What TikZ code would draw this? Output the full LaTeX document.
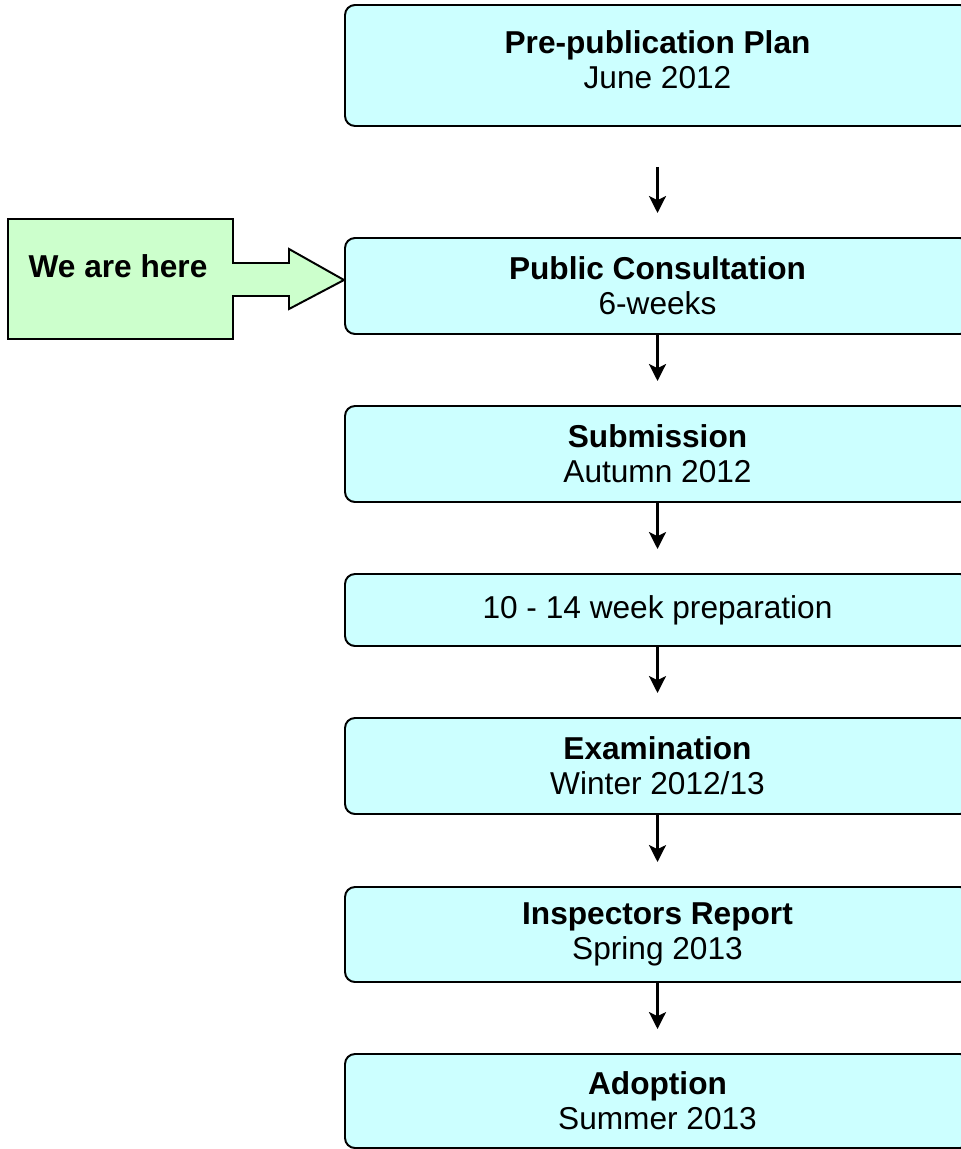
\documentclass[tikz,border=0pt]{standalone}
\usepackage{fontspec}
\setmainfont{Liberation Sans}
\usetikzlibrary{arrows.meta}

\definecolor{stagefill}{HTML}{CCFFFF}
\definecolor{herefill}{HTML}{CCFFCC}

\tikzset{
  stage/.style={draw, line width=1.4pt, fill=stagefill, rounded corners=0.25cm,
    minimum width=15.625cm, align=center, font=\fontsize{22.5}{25}\selectfont},
  flow/.style={-{Stealth[length=0.42cm,width=0.42cm,inset=0.1cm]}, line width=2.8pt,
    shorten >=0.6cm},
}

\begin{document}
\begin{tikzpicture}
        \clip (0,0) rectangle (24.025,-28.725);

        % draw the stages
        \node[stage, minimum height=3.025cm, text depth=0.3cm] (plan) at (16.4375,-1.6375) {\textbf{Pre-publication Plan}\\June 2012};
        \node[stage, minimum height=2.4cm] (consult) at (16.4375,-7.15) {\textbf{Public Consultation}\\6-weeks};
        \node[stage, minimum height=2.4cm] (submit) at (16.4375,-11.35) {\textbf{Submission}\\Autumn 2012};
        \node[stage, minimum height=1.8cm] (prep) at (16.4375,-15.25) {10 - 14 week preparation};
        \node[stage, minimum height=2.4cm] (exam) at (16.4375,-19.15) {\textbf{Examination}\\Winter 2012/13};
        \node[stage, minimum height=2.375cm] (report) at (16.4375,-23.3625) {\textbf{Inspectors Report}\\Spring 2013};
        \node[stage, minimum height=2.35cm] (adopt) at (16.4375,-27.525) {\textbf{Adoption}\\Summer 2013};

        % the marker pointing at the current stage
        \filldraw[fill=herefill, draw=black, line width=1.4pt]
            (0.2,-5.475) -- (5.825,-5.475) -- (5.825,-6.575) -- (7.225,-6.575)
            -- (7.225,-6.225) -- (8.6,-7.0) -- (7.225,-7.725) -- (7.225,-7.4)
            -- (5.825,-7.4) -- (5.825,-8.475) -- (0.2,-8.475) -- cycle;
        \node[font=\fontsize{22.5}{25}\selectfont\bfseries] (here) at (2.95,-6.65) {We are here};

        % draw the arrows
        \draw[flow, shorten <=1cm] (plan) -- (consult);
        \draw[flow] (consult) -- (submit);
        \draw[flow] (submit) -- (prep);
        \draw[flow] (prep) -- (exam);
        \draw[flow] (exam) -- (report);
        \draw[flow] (report) -- (adopt);

\end{tikzpicture}
\end{document}
